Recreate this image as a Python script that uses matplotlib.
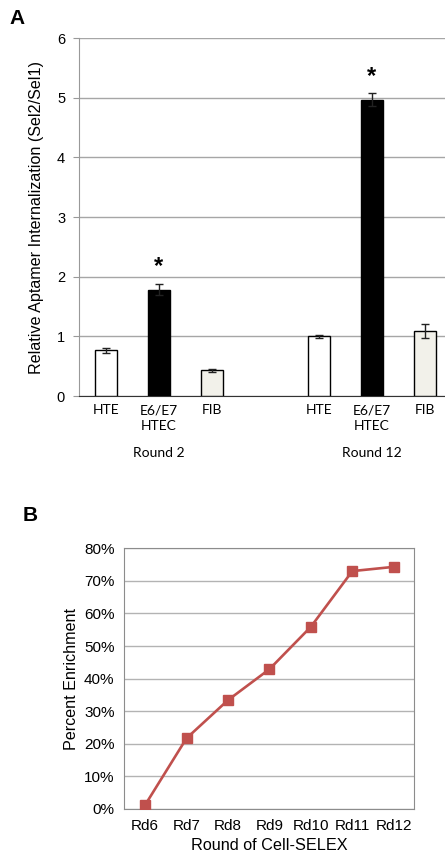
import numpy as np
import matplotlib.pyplot as plt

# panel A data
bar_pos = [0, 1, 2, 4, 5, 6]
bar_labels = ['HTE', 'E6/E7\nHTEC', 'FIB', 'HTE', 'E6/E7\nHTEC', 'FIB']
bar_vals = [0.77, 1.78, 0.43, 1.00, 4.97, 1.09]
bar_errs = [0.04, 0.09, 0.02, 0.03, 0.11, 0.12]
bar_colors = ['white', 'black', '#f2f1ea', 'white', 'black', '#f2f1ea']
star_pos = [1, 5]
star_y = [2.17, 5.35]
group_labels = ['Round 2', 'Round 12']
group_pos = [1, 5]

# panel B data
rounds = ['Rd6', 'Rd7', 'Rd8', 'Rd9', 'Rd10', 'Rd11', 'Rd12']
enrich = [1.2, 21.7, 33.4, 42.9, 55.9, 73.0, 74.3]

fig = plt.figure(figsize=(4.45, 8.61), dpi=100)
tick_font = 'Liberation Sans'
cat_font = 'Lato'

# ---- panel A ----
ax = fig.add_axes([0.1775, 0.540, 0.838, 0.4158])
ax.bar(bar_pos, bar_vals, width=0.41, color=bar_colors, edgecolor='black',
       linewidth=1.0, zorder=3)
ax.errorbar(bar_pos, bar_vals, yerr=bar_errs, fmt='none', ecolor='#222222',
            elinewidth=1.0, capsize=3, capthick=1.0, zorder=4)
for x, y in zip(star_pos, star_y):
    ax.text(x, y, '*', ha='center', va='center', fontsize=17,
            fontweight='bold', family=tick_font)
ax.set_xlim(-0.5, 6.5)
ax.set_ylim(0, 6)
ax.set_yticks(range(7))
ax.yaxis.grid(True, color='#a6a6a6', linewidth=1.0, zorder=0)
ax.set_axisbelow(True)
for s in ['top', 'right']:
    ax.spines[s].set_visible(False)
ax.spines['left'].set_color('#999999')
ax.spines['bottom'].set_color('#333333')
ax.tick_params(axis='y', length=4, color='#999999', labelsize=10.5, pad=6)
ax.tick_params(axis='x', length=0, pad=6)
ax.set_xticks(bar_pos)
ax.set_xticklabels(bar_labels, fontsize=10, family=cat_font, linespacing=1.35)
for lbl in ax.get_yticklabels():
    lbl.set_family(tick_font)
for x, lab in zip(group_pos, group_labels):
    ax.text(x, -0.16, lab, transform=ax.get_xaxis_transform(),
            ha='center', va='center', fontsize=10, family=cat_font)
ax.set_ylabel('Relative Aptamer Internalization (Sel2/Sel1)', fontsize=11.6,
              family=tick_font, labelpad=9)
fig.text(0.022, 0.979, 'A', fontsize=15, fontweight='bold', family=tick_font,
         va='center', ha='left')

# ---- panel B ----
bx = fig.add_axes([0.2794, 0.0604, 0.652, 0.3028])
xs = np.arange(len(rounds))
bx.plot(xs, enrich, color='#c0504d', linewidth=1.9, marker='s',
        markersize=7, zorder=3)
bx.set_xlim(-0.5, 6.5)
bx.set_ylim(0, 80)
bx.set_yticks(range(0, 81, 10))
bx.set_yticklabels([f'{v}%' for v in range(0, 81, 10)], family=tick_font,
                   fontsize=11)
bx.set_xticks(xs)
bx.set_xticklabels(rounds, family=tick_font, fontsize=11)
bx.tick_params(length=0, pad=7)
bx.yaxis.grid(True, color='#b3b3b3', linewidth=1.0, zorder=0)
for s in bx.spines.values():
    s.set_color('#8c8c8c')
bx.set_xlabel('Round of Cell-SELEX', family=tick_font, fontsize=11.7, labelpad=4)
bx.set_ylabel('Percent Enrichment', family=tick_font, fontsize=11.6, labelpad=4)
fig.text(0.05, 0.401, 'B', fontsize=15, fontweight='bold', family=tick_font,
         va='center', ha='left')

fig.savefig('out.png', dpi=100)
